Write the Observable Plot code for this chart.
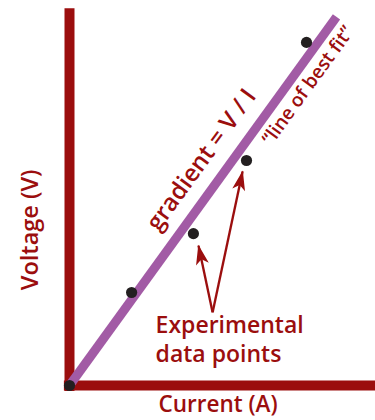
<!DOCTYPE html>
<html>
<head>
<meta charset="utf-8">
<script src="https://cdn.jsdelivr.net/npm/d3@7"></script>
<script src="https://cdn.jsdelivr.net/npm/@observablehq/plot@0.6"></script>
<style>
  html, body { margin: 0; padding: 0; background: #fff; }
  #chart svg { display: block; }
</style>
</head>
<body>
<div id="chart"></div>
<script>
// Measured current (A) and voltage (V) readings
const current = [0, 2.07, 4.13, 5.9, 7.9];
const voltage = [0, 2.48, 4.05, 6.0, 9.15];

// Line of best fit through the origin
const fitCurrent = [0, 8.9];
const fitVoltage = [0, 9.83];

// Axis extents (current, voltage)
const axisCurrent = [-0.17, 10.2];
const axisVoltage = [-0.16, 10.05];

// Callout arrows: shared tail, heads on two of the readings
const arrowFrom = [4.77, 1.95];
const arrowToCurrent = [4.3, 5.77];
const arrowToVoltage = [3.73, 5.71];

// Text labels
const labelTexts = ["gradient = V / I", "\u201Cline of best fit\u201D", "Experimental", "data points", "Current (A)", "Voltage (V)"];
const labelCurrent = [4.4, 7.95, 2.87, 2.87, 4.95, -1.3];
const labelVoltage = [6.02, 8.0, 1.6, 0.83, -0.52, 4.15];

const red = "#9b0e0e";
const purple = "#a25ba5";
const slope = -Math.atan2(368.5, 267) * 180 / Math.PI;

const points = current.map((c, i) => ({c, v: voltage[i]}));
const fit = fitCurrent.map((c, i) => ({c, v: fitVoltage[i]}));
const arrows = arrowToCurrent.map((c, i) => ({c1: arrowFrom[0], v1: arrowFrom[1], c2: c, v2: arrowToVoltage[i]}));
const labels = labelTexts.map((t, i) => ({t, c: labelCurrent[i], v: labelVoltage[i]}));
const rotations = [slope, slope, 0, 0, 0, -90];
const sizes = [24, 19, 23, 23, 22.5, 23.5];
const anchors = ["middle", "middle", "start", "start", "middle", "middle"];

const chart = Plot.plot({
  width: 375,
  height: 420,
  marginLeft: 69,
  marginRight: 6,
  marginTop: 10,
  marginBottom: 35,
  x: {domain: [0, 10], axis: null},
  y: {domain: [0, 10], axis: null},
  style: {background: "#fff", fontFamily: "'Open Sans', sans-serif", fontWeight: 600},
  marks: [
    Plot.ruleX([0], {y1: axisVoltage[0], y2: axisVoltage[1], stroke: red, strokeWidth: 10}),
    Plot.ruleY([0], {x1: axisCurrent[0], x2: axisCurrent[1], stroke: red, strokeWidth: 10}),
    Plot.line(fit, {x: "c", y: "v", stroke: purple, strokeWidth: 9, strokeLinecap: "butt"}),
    Plot.link(arrows, {x1: "c1", y1: "v1", x2: "c2", y2: "v2", stroke: red, strokeWidth: 2.4, markerEnd: "arrow"}),
    Plot.dot(points, {x: "c", y: "v", r: 5.6, fill: "#231f20"}),
    ...labels.map((d, i) => Plot.text([d], {
      x: "c", y: "v", text: "t",
      rotate: rotations[i],
      fontSize: sizes[i],
      textAnchor: anchors[i],
      fill: red
    }))
  ]
});

// Filled, notched arrowheads for the callouts
for (const m of chart.querySelectorAll("marker")) {
  m.setAttribute("viewBox", "-22 -8 24 16");
  m.setAttribute("markerUnits", "userSpaceOnUse");
  m.setAttribute("markerWidth", 24);
  m.setAttribute("markerHeight", 16);
  m.setAttribute("fill", red);
  m.setAttribute("stroke", "none");
  const p = m.querySelector("path");
  if (p) {
    p.setAttribute("d", "M1,0L-19,-6.5L-14,0L-19,6.5Z");
    p.setAttribute("fill", red);
    p.setAttribute("stroke", "none");
  }
}

document.getElementById("chart").append(chart);
</script>
</body>
</html>
